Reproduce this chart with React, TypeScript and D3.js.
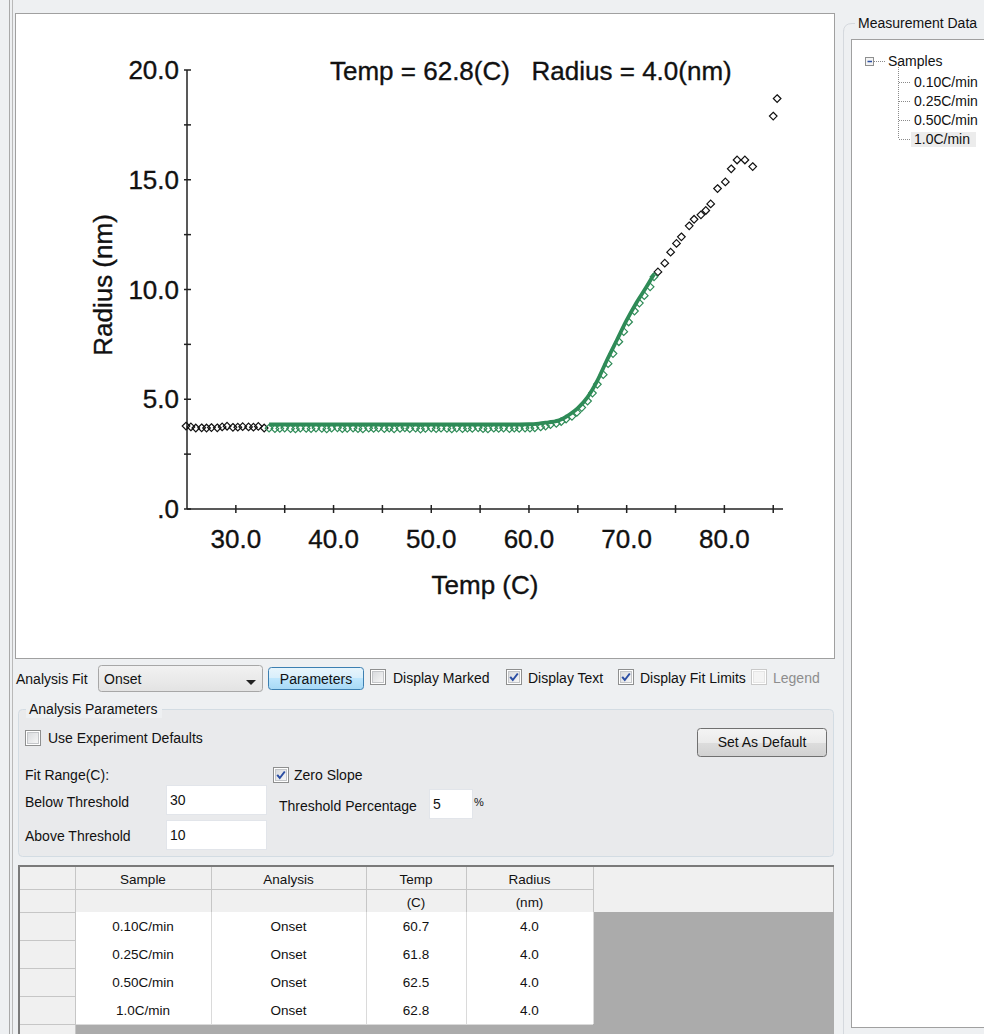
import React from 'react';
import * as d3 from 'd3';

// Radius vs temperature, 1.0C/min ramp. Points before the fit window.
const preFitTemp = [24.9, 25.4, 25.9, 26.5, 27.0, 27.5, 28.1, 28.6, 29.1, 29.7, 30.2, 30.7, 31.3, 31.8, 32.3, 32.9];
const preFitRadius = [3.78, 3.74, 3.69, 3.70, 3.69, 3.71, 3.70, 3.74, 3.77, 3.72, 3.73, 3.75, 3.74, 3.73, 3.76, 3.69];

// Points inside the fit window (drawn green).
const fitTemp = [
  33.4, 34.0, 34.5, 35.0, 35.6, 36.1, 36.6, 37.2, 37.7, 38.2, 38.8, 39.3, 39.8, 40.4, 40.9, 41.4, 42.0, 42.5, 43.0, 43.6,
  44.1, 44.6, 45.2, 45.7, 46.2, 46.8, 47.3, 47.8, 48.4, 48.9, 49.4, 50.0, 50.5, 51.0, 51.6, 52.1, 52.6, 53.2, 53.7, 54.2,
  54.8, 55.3, 55.8, 56.4, 56.9, 57.4, 58.0, 58.5, 59.0, 59.6, 60.1, 60.6, 61.2, 61.7, 62.2, 62.8, 63.3, 63.8, 64.4, 64.9,
  65.4, 66.0, 66.5, 67.0, 67.6, 68.1, 68.6, 69.2, 69.7, 70.2, 70.8, 71.3, 71.8, 72.4, 72.8,
];
const fitRadius = [
  3.68, 3.66, 3.67, 3.69, 3.66, 3.65, 3.68, 3.67, 3.66, 3.69, 3.67, 3.65, 3.68, 3.70, 3.66, 3.67, 3.69, 3.66, 3.65, 3.68,
  3.67, 3.69, 3.66, 3.68, 3.65, 3.67, 3.70, 3.66, 3.68, 3.64, 3.67, 3.69, 3.66, 3.68, 3.67, 3.65, 3.69, 3.66, 3.68, 3.67,
  3.70, 3.66, 3.65, 3.68, 3.67, 3.69, 3.66, 3.68, 3.67, 3.69, 3.68, 3.70, 3.74, 3.78, 3.84, 3.90, 3.98, 4.10, 4.22, 4.40,
  4.62, 4.92, 5.28, 5.68, 6.12, 6.62, 7.08, 7.62, 8.08, 8.52, 9.02, 9.38, 9.72, 10.12, 10.58,
];

// Points after the fit window.
const postFitTemp = [73.2, 73.9, 74.5, 75.1, 75.6, 76.4, 76.9, 77.6, 78.1, 78.6, 79.3, 80.1, 80.7, 81.3, 82.1, 82.9, 85.0, 85.4];
const postFitRadius = [10.8, 11.2, 11.7, 12.1, 12.4, 12.9, 13.2, 13.4, 13.6, 13.9, 14.6, 14.9, 15.5, 15.9, 15.9, 15.6, 17.9, 18.7];

// Onset fit curve.
const curveTemp = [33.4, 58.0, 60.0, 61.0, 62.0, 62.8, 63.5, 64.3, 65.0, 66.0, 67.0, 68.0, 69.0, 70.0, 71.0, 72.0, 72.8];
const curveRadius = [3.85, 3.85, 3.86, 3.89, 3.95, 4.0, 4.12, 4.35, 4.6, 5.1, 5.85, 6.8, 7.7, 8.6, 9.4, 10.1, 10.7];

const onsetTemp = 62.8;
const onsetRadius = 4.0;

const xTicks = [30, 35, 40, 45, 50, 55, 60, 65, 70, 75, 80, 85];
const xTickLabels = [30, 40, 50, 60, 70, 80];
const yTicks = [0, 2.5, 5, 7.5, 10, 12.5, 15, 17.5, 20];
const yTickLabels = [0, 5, 10, 15, 20];

// Results table.
const samples = ['0.10C/min', '0.25C/min', '0.50C/min', '1.0C/min'];
const sampleAnalysis = ['Onset', 'Onset', 'Onset', 'Onset'];
const sampleOnsetTemp = [60.7, 61.8, 62.5, 62.8];
const sampleOnsetRadius = [4.0, 4.0, 4.0, 4.0];

const CHART_FONT = "'Liberation Sans', Arial, sans-serif";
const UI_FONT = "'Liberation Sans', Arial, sans-serif";
const GREEN = '#2e8b57';

const x = d3.scaleLinear().domain([25, 86]).range([187, 783]);
const y = d3.scaleLinear().domain([0, 20]).range([509, 70]);

const diamond = (r: number) => `M0,${-r}L${r},0L0,${r}L${-r},0Z`;

function Diamonds({ temps, radii, color }: { temps: number[]; radii: number[]; color: string }) {
  return (
    <g fill="none" stroke={color} strokeWidth={1.2}>
      {temps.map((t, i) => (
        <path key={i} d={diamond(3.8)} transform={`translate(${x(t)},${y(radii[i])})`} />
      ))}
    </g>
  );
}

function CheckBox({ x0, y0, checked, disabled }: { x0: number; y0: number; checked?: boolean; disabled?: boolean }) {
  return (
    <g transform={`translate(${x0},${y0})`}>
      <rect x={0.5} y={0.5} width={15} height={15} fill="#fff" stroke={disabled ? '#c9c9c9' : '#8e8f8f'} />
      <rect x={2.5} y={2.5} width={11} height={11} fill={disabled ? '#f4f4f4' : 'url(#cbFill)'} stroke={disabled ? '#e6e6e6' : '#c4c6c9'} />
      {checked && <path d="M4.2 7.8 L6.8 11 L11.8 4.5" fill="none" stroke="#2b4ea3" strokeWidth={2} />}
    </g>
  );
}

function UIText({ x0, y0, children, anchor, color, size }: any) {
  return (
    <text x={x0} y={y0} fontFamily={UI_FONT} fontSize={size ?? 14} fill={color ?? '#111'} textAnchor={anchor ?? 'start'}>
      {children}
    </text>
  );
}

function TextBox({ x0, y0, w, h, value }: { x0: number; y0: number; w: number; h: number; value: string }) {
  return (
    <g>
      <rect x={x0 + 0.5} y={y0 + 0.5} width={w} height={h} fill="#fff" stroke="#e2e5ea" />
      <UIText x0={x0 + 4} y0={y0 + h / 2 + 5}>{value}</UIText>
    </g>
  );
}

export default function App() {
  const line = d3
    .line<number>()
    .x((_, i) => x(curveTemp[i]))
    .y((d) => y(d))
    .curve(d3.curveMonotoneX);

  const colEdges = [75, 211, 366, 466, 593];
  const headers = ['Sample', 'Analysis', 'Temp', 'Radius'];
  const units = ['', '', '(C)', '(nm)'];
  const rowTops = [912, 940, 968, 996];
  const rowH = 28;

  return (
    <svg width={984} height={1034} style={{ position: 'absolute', left: 0, top: 0, display: 'block' }}>
      <defs>
        <linearGradient id="cbFill" x1="0" y1="0" x2="1" y2="1">
          <stop offset="0" stopColor="#d8dadd" />
          <stop offset="1" stopColor="#f7f7f7" />
        </linearGradient>
        <linearGradient id="btnFill" x1="0" y1="0" x2="0" y2="1">
          <stop offset="0" stopColor="#f4f4f4" />
          <stop offset="0.5" stopColor="#ebebeb" />
          <stop offset="0.5" stopColor="#dddddd" />
          <stop offset="1" stopColor="#d1d1d1" />
        </linearGradient>
        <linearGradient id="blueFill" x1="0" y1="0" x2="0" y2="1">
          <stop offset="0" stopColor="#e8f5fc" />
          <stop offset="0.5" stopColor="#d8eefb" />
          <stop offset="0.5" stopColor="#bee6fd" />
          <stop offset="1" stopColor="#a7d9f5" />
        </linearGradient>
        <linearGradient id="comboFill" x1="0" y1="0" x2="0" y2="1">
          <stop offset="0" stopColor="#f2f2f2" />
          <stop offset="1" stopColor="#e3e3e3" />
        </linearGradient>
      </defs>

      {/* window background */}
      <rect x={0} y={0} width={984} height={1034} fill="#eef0f2" />
      <line x1={9.5} y1={0} x2={9.5} y2={1034} stroke="#a9a9a9" />
      <line x1={12.5} y1={0} x2={12.5} y2={1034} stroke="#b9b9b9" />

      {/* plot panel */}
      <rect x={15.5} y={13.5} width={819} height={645} fill="#fff" stroke="#a0a0a0" />

      {/* axes */}
      <g stroke="#222" strokeWidth={1.5}>
        <line x1={x(25)} y1={y(20)} x2={x(25)} y2={y(0)} />
        <line x1={x(25)} y1={y(0)} x2={x(86)} y2={y(0)} />
        {yTicks.map((t) => (
          <line key={t} x1={x(25) - 3} x2={x(25) + 4} y1={y(t)} y2={y(t)} />
        ))}
        {xTicks.map((t) => (
          <line key={t} x1={x(t)} x2={x(t)} y1={y(0) - 4} y2={y(0) + 4} />
        ))}
      </g>
      <g fontFamily={CHART_FONT} fontSize={26} fill="#111" stroke="#111" strokeWidth={0.35}>
        {yTickLabels.map((t) => (
          <text key={t} x={x(25) - 8} y={y(t) + 9} textAnchor="end">
            {t === 0 ? '.0' : t.toFixed(1)}
          </text>
        ))}
        {xTickLabels.map((t) => (
          <text key={t} x={x(t)} y={548} textAnchor="middle">
            {t.toFixed(1)}
          </text>
        ))}
        <text x={485} y={594} textAnchor="middle">Temp (C)</text>
        <text transform="translate(112,285) rotate(-90)" textAnchor="middle">Radius (nm)</text>
        <text x={330} y={80} style={{ whiteSpace: 'pre' }}>
          {`Temp = ${onsetTemp.toFixed(1)}(C)   Radius = ${onsetRadius.toFixed(1)}(nm)`}
        </text>
      </g>

      {/* data */}
      <Diamonds temps={preFitTemp} radii={preFitRadius} color="#111" />
      <Diamonds temps={postFitTemp} radii={postFitRadius} color="#111" />
      <Diamonds temps={fitTemp} radii={fitRadius} color={GREEN} />
      <path d={line(curveRadius) ?? ''} fill="none" stroke={GREEN} strokeWidth={3.8} strokeLinejoin="round" />

      {/* control row */}
      <UIText x0={16} y0={684}>Analysis Fit</UIText>
      <rect x={98.5} y={665.5} width={164} height={26} rx={3} fill="url(#comboFill)" stroke="#a7a7a7" />
      <UIText x0={104} y0={684}>Onset</UIText>
      <path d="M246,680 L256,680 L251,685 Z" fill="#222" />
      <rect x={268.5} y={667.5} width={95} height={22} rx={3} fill="url(#blueFill)" stroke="#3c7fb1" />
      <UIText x0={316} y0={684} anchor="middle">Parameters</UIText>
      <CheckBox x0={370} y0={669} />
      <UIText x0={393} y0={683}>Display Marked</UIText>
      <CheckBox x0={506} y0={669} checked />
      <UIText x0={528} y0={683}>Display Text</UIText>
      <CheckBox x0={618} y0={669} checked />
      <UIText x0={640} y0={683}>Display Fit Limits</UIText>
      <CheckBox x0={751} y0={669} disabled />
      <UIText x0={773} y0={683} color="#8d8d8d">Legend</UIText>

      {/* analysis parameters group */}
      <rect x={18.5} y={709.5} width={815} height={147} rx={4} fill="#e9eaec" stroke="#d3dce3" />
      <rect x={26} y={700} width={136} height={18} fill="#eef0f2" />
      <UIText x0={29} y0={714}>Analysis Parameters</UIText>
      <CheckBox x0={25} y0={730} />
      <UIText x0={48} y0={743}>Use Experiment Defaults</UIText>
      <rect x={697.5} y={728.5} width={129} height={28} rx={3} fill="url(#btnFill)" stroke="#707070" />
      <UIText x0={762} y0={747} anchor="middle">Set As Default</UIText>
      <UIText x0={25} y0={780}>Fit Range(C):</UIText>
      <CheckBox x0={273} y0={767} checked />
      <UIText x0={294} y0={780}>Zero Slope</UIText>
      <UIText x0={25} y0={807}>Below Threshold</UIText>
      <TextBox x0={166} y0={785} w={100} h={29} value="30" />
      <UIText x0={279} y0={811}>Threshold Percentage</UIText>
      <TextBox x0={429} y0={789} w={43} h={29} value="5" />
      <UIText x0={474} y0={806} size={11}>%</UIText>
      <UIText x0={25} y0={841}>Above Threshold</UIText>
      <TextBox x0={166} y0={820} w={100} h={29} value="10" />

      {/* results table */}
      <rect x={18} y={865} width={816} height={169} fill="#ababab" />
      <line x1={18} y1={866} x2={834} y2={866} stroke="#7a7a7a" strokeWidth={2} />
      <line x1={19} y1={865} x2={19} y2={1034} stroke="#7a7a7a" strokeWidth={2} />
      <rect x={20} y={867} width={813} height={45} fill="#f0f0f0" />
      <rect x={20} y={867} width={55} height={167} fill="#f0f0f0" />
      <g stroke="#c6c6c6">
        {[889.5, 912.5].map((yy) => (
          <line key={yy} x1={20} x2={593} y1={yy} y2={yy} />
        ))}
        {colEdges.map((cx) => (
          <line key={cx} x1={cx + 0.5} x2={cx + 0.5} y1={867} y2={912} />
        ))}
        {rowTops.map((rt, i) => (
          <line key={i} x1={20} x2={75} y1={rt + rowH + 0.5} y2={rt + rowH + 0.5} />
        ))}
        <line x1={75.5} x2={75.5} y1={912} y2={1034} />
      </g>
      {rowTops.map((rt, i) => (
        <g key={i}>
          <rect x={76} y={rt} width={517} height={rowH} fill="#fff" />
          <g stroke="#dadada">
            <line x1={76} x2={593} y1={rt + rowH + 0.5} y2={rt + rowH + 0.5} />
            {colEdges.slice(1).map((cx) => (
              <line key={cx} x1={cx + 0.5} x2={cx + 0.5} y1={rt} y2={rt + rowH} />
            ))}
          </g>
          {[samples[i], sampleAnalysis[i], sampleOnsetTemp[i].toFixed(1), sampleOnsetRadius[i].toFixed(1)].map((v, c) => (
            <text key={c} x={(colEdges[c] + colEdges[c + 1]) / 2} y={rt + 19} textAnchor="middle" fontFamily={UI_FONT} fontSize={13.5} fill="#111">
              {v}
            </text>
          ))}
        </g>
      ))}
      {headers.map((h, c) => (
        <g key={h} fontFamily={UI_FONT} fontSize={13.5} fill="#111" textAnchor="middle">
          <text x={(colEdges[c] + colEdges[c + 1]) / 2} y={884}>{h}</text>
          <text x={(colEdges[c] + colEdges[c + 1]) / 2} y={907}>{units[c]}</text>
        </g>
      ))}

      {/* measurement data panel */}
      <line x1={843.5} y1={30} x2={843.5} y2={1034} stroke="#d5d9de" />
      <path d="M843.5,32 Q843.5,23.5 852,23.5 L855,23.5" fill="none" stroke="#d5d9de" />
      <UIText x0={858} y0={28}>Measurement Data</UIText>
      <rect x={851.5} y={39.5} width={140} height={988} fill="#fff" stroke="#a0a0a0" />
      <rect x={865.5} y={57.5} width={8} height={8} fill="#f4f4f4" stroke="#8e8f8f" />
      <line x1={867.5} x2={872} y1={61.5} y2={61.5} stroke="#2b4ea3" strokeWidth={1.5} />
      <g stroke="#8a8a8a" strokeDasharray="1,1">
        <line x1={874} x2={886} y1={61.5} y2={61.5} />
        <line x1={898.5} x2={898.5} y1={67} y2={139} />
        {[82, 101, 120, 139].map((yy) => (
          <line key={yy} x1={899} x2={911} y1={yy + 0.5} y2={yy + 0.5} />
        ))}
      </g>
      <rect x={911} y={132} width={65} height={15} fill="#ececec" />
      <UIText x0={888} y0={66}>Samples</UIText>
      {samples.map((s, i) => (
        <UIText key={s} x0={914} y0={[87, 106, 125, 144][i]}>{s}</UIText>
      ))}
    </svg>
  );
}
